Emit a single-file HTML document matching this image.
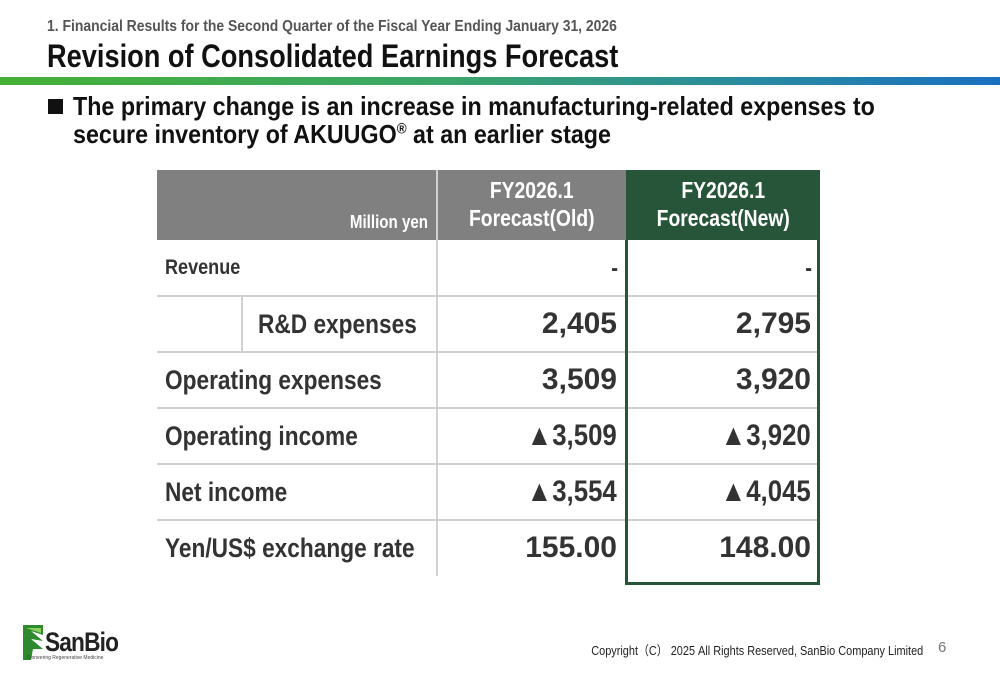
<!DOCTYPE html>
<html><head><meta charset="utf-8"><style>
*{margin:0;padding:0;box-sizing:border-box}
body{width:1000px;height:685px;background:#fff;position:relative;overflow:hidden;font-family:"Liberation Sans",sans-serif;font-weight:bold;color:#333}
.a{position:absolute;white-space:nowrap}
.sx{display:inline-block;transform:scaleX(0.84);transform-origin:left center}
.sr{display:inline-block;transform:scaleX(0.84);transform-origin:right center}
.nr{display:inline-block;transform:scaleX(1.0);transform-origin:right center;font-size:30px}
.tr{display:inline-block;transform:scaleX(0.86);transform-origin:right center;font-size:30px}
.sc{display:inline-block;transform:scaleX(0.84);transform-origin:center center}
.hl{position:absolute;height:2px;background:#d0d0d0}
.vl{position:absolute;width:2px;background:#d0d0d0}
</style></head><body>
<div class="a" style="left:47px;top:18px;font-size:16px;color:#555"><span class="sx" style="transform:scaleX(0.87)">1. Financial Results for the Second Quarter of the Fiscal Year Ending January 31, 2026</span></div>
<div class="a" style="left:47px;top:38px;font-size:32px;color:#111"><span class="sx" style="transform:scaleX(0.85)">Revision of Consolidated Earnings Forecast</span></div>
<div class="a" style="left:0;top:77px;width:1000px;height:8px;background:linear-gradient(90deg,#45b035,#3aa66a 45%,#2a8aa0 75%,#1a70c0)"></div>
<div class="a" style="left:48px;top:99px;width:15px;height:15px;background:#111"></div>
<div class="a" style="left:73px;top:92px;font-size:26px;line-height:28px;color:#111"><span class="sx" style="transform:scaleX(0.895)">The primary change is an increase in manufacturing-related expenses to<br>secure inventory of AKUUGO<sup style="font-size:15px;line-height:0">®</sup> at an earlier stage</span></div>

<div>
<div class="a" style="left:157px;top:170px;width:279px;height:70px;background:#808080"></div>
<div class="a" style="left:438px;top:170px;width:188px;height:70px;background:#808080"></div>
<div class="a" style="left:626px;top:170px;width:194px;height:70px;background:#27553a"></div>
<div class="a" style="right:572px;top:212px;font-size:18px;color:#fff"><span class="sr">Million yen</span></div>
<div class="a" style="left:438px;top:176px;width:188px;text-align:center;font-size:23px;line-height:28px;color:#fff"><span class="sc">FY2026.1<br>Forecast(Old)</span></div>
<div class="a" style="left:626px;top:176px;width:194px;text-align:center;font-size:23px;line-height:28px;color:#fff"><span class="sc">FY2026.1<br>Forecast(New)</span></div>

<div class="hl" style="left:157px;top:295px;width:661px"></div>
<div class="hl" style="left:157px;top:351px;width:661px"></div>
<div class="hl" style="left:157px;top:407px;width:661px"></div>
<div class="hl" style="left:157px;top:463px;width:661px"></div>
<div class="hl" style="left:157px;top:519px;width:661px"></div>
<div class="vl" style="left:436px;top:170px;height:406px"></div>
<div class="vl" style="left:241px;top:296px;height:56px"></div>
<div class="a" style="left:625px;top:240px;width:195px;height:345px;border:3px solid #27553a;border-top:none"></div>

<div class="a" style="left:165px;top:256px;font-size:21px"><span class="sx" style="transform:scaleX(0.86)">Revenue</span></div>
<div class="a" style="right:382px;top:255px;font-size:24px"><span class="sr">-</span></div>
<div class="a" style="right:188px;top:255px;font-size:24px"><span class="sr">-</span></div>

<div class="a" style="left:258px;top:309px;font-size:27px"><span class="sx">R&amp;D expenses</span></div>
<div class="a" style="right:383px;top:307px"><span class="nr">2,405</span></div>
<div class="a" style="right:189px;top:307px"><span class="nr">2,795</span></div>

<div class="a" style="left:165px;top:365px;font-size:27px"><span class="sx">Operating expenses</span></div>
<div class="a" style="right:383px;top:363px"><span class="nr">3,509</span></div>
<div class="a" style="right:189px;top:363px"><span class="nr">3,920</span></div>

<div class="a" style="left:165px;top:421px;font-size:27px"><span class="sx">Operating income</span></div>
<div class="a" style="right:383px;top:419px"><span class="tr">▲3,509</span></div>
<div class="a" style="right:189px;top:419px"><span class="tr">▲3,920</span></div>

<div class="a" style="left:165px;top:477px;font-size:27px"><span class="sx">Net income</span></div>
<div class="a" style="right:383px;top:475px"><span class="tr">▲3,554</span></div>
<div class="a" style="right:189px;top:475px"><span class="tr">▲4,045</span></div>

<div class="a" style="left:165px;top:533px;font-size:27px"><span class="sx">Yen/US$ exchange rate</span></div>
<div class="a" style="right:383px;top:531px"><span class="nr">155.00</span></div>
<div class="a" style="right:189px;top:531px"><span class="nr">148.00</span></div>
</div>

<div class="a" style="left:23px;top:625px">
<svg width="22" height="35" viewBox="0 0 22 35"><polygon points="0,0 20,0 20,10 8,6 20,16 8,14 20,24 10,24 8,35 0,35" fill="#2d8a2d"/><polygon points="3,3 18,3 18,8 6,4" fill="#8cd060"/></svg>
<span style="position:absolute;left:22px;top:2px;font-size:27px;color:#222;letter-spacing:-1px"><span class="sx">SanBio</span></span>
<span style="position:absolute;left:4px;top:30px;font-size:5px;color:#444;font-weight:normal">Pioneering Regenerative Medicine</span>
</div>
<div class="a" style="right:77px;top:640px;font-size:13px;font-weight:normal;color:#222"><span class="sr">Copyright（C） 2025 All Rights Reserved, SanBio Company Limited</span></div>
<div class="a" style="left:938px;top:639px;font-size:15px;font-weight:normal;color:#777">6</div>
</body></html>
